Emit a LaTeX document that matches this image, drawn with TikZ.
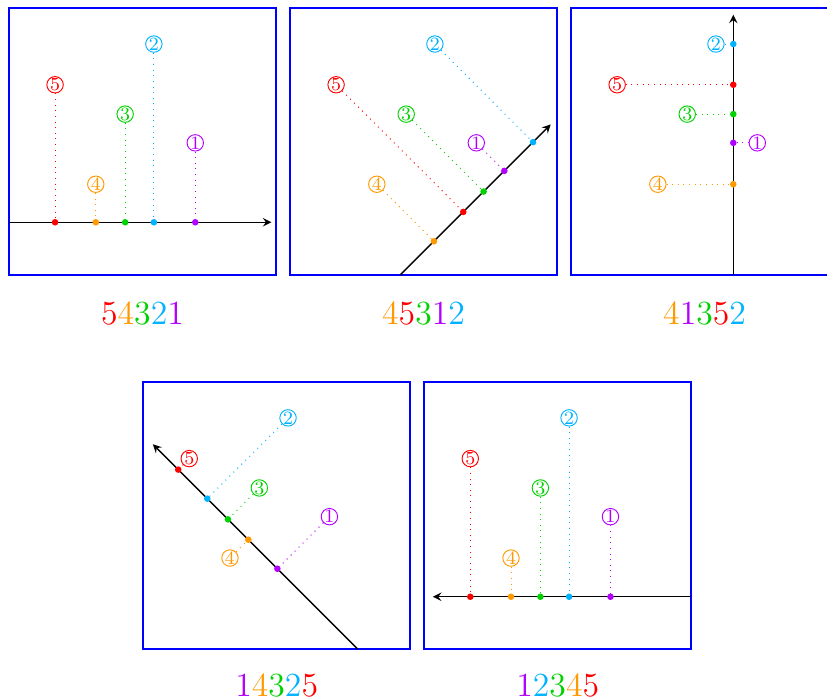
\documentclass[tikz,border=0pt]{standalone}
\usepackage{tikz}
\usetikzlibrary{calc,arrows}
\definecolor{cone}{RGB}{178,0,255}
\definecolor{ctwo}{RGB}{0,178,255}
\definecolor{cthree}{RGB}{0,210,0}
\definecolor{cfour}{RGB}{255,153,0}
\definecolor{cfive}{RGB}{255,0,0}
\begin{document}
\begin{tikzpicture}[>=stealth,
			box/.style={draw=blue, thick},
			axis/.style={->, semithick, black},
			num/.style={circle, draw, thin, inner sep=0pt, minimum size=7pt, font=\footnotesize},
			dot/.style={circle, fill, inner sep=0pt, minimum size=2.8pt},
			proj/.style={dotted, thin},
			order/.style={font=\Large, inner sep=0pt}]
			\useasboundingbox (-0.135,-6.352) rectangle (12.254,4.12);
			
			% panel a : 54321
			\begin{scope}
			\draw[box] (0,0) rectangle (4,4);
			\coordinate (aS) at (0,0.79);
			\coordinate (aE) at (3.93,0.79);
			\draw[axis] (aS) -- (aE);
			\node[num,cfive] (a5) at (0.69,2.85) {5};
			\node[num,cfour] (a4) at (1.30,1.36) {4};
			\node[num,cthree] (a3) at (1.74,2.41) {3};
			\node[num,ctwo] (a2) at (2.17,3.46) {2};
			\node[num,cone] (a1) at (2.79,1.98) {1};
			\node[dot,cfive] (a5p) at ($(aS)!(a5.center)!(aE)$) {};
			\node[dot,cfour] (a4p) at ($(aS)!(a4.center)!(aE)$) {};
			\node[dot,cthree] (a3p) at ($(aS)!(a3.center)!(aE)$) {};
			\node[dot,ctwo] (a2p) at ($(aS)!(a2.center)!(aE)$) {};
			\node[dot,cone] (a1p) at ($(aS)!(a1.center)!(aE)$) {};
			\path[proj] (a5) edge[draw=cfive] (a5p) (a4) edge[draw=cfour] (a4p) (a3) edge[draw=cthree] (a3p)
			(a2) edge[draw=ctwo] (a2p) (a1) edge[draw=cone] (a1p);
			\node[order] (aord) at (2,-0.57) {\textcolor{cfive}{5}\textcolor{cfour}{4}\textcolor{cthree}{3}\textcolor{ctwo}{2}\textcolor{cone}{1}};
			\end{scope}
			
			% panel b : 45312
			\begin{scope}[shift={(4.21,0)}]
			\draw[box] (0,0) rectangle (4,4);
			\coordinate (bS) at (1.65,0);
			\coordinate (bE) at (3.905,2.255);
			\draw[axis] (bS) -- (bE);
			\node[num,cfive] (b5) at (0.69,2.85) {5};
			\node[num,cfour] (b4) at (1.30,1.36) {4};
			\node[num,cthree] (b3) at (1.74,2.41) {3};
			\node[num,ctwo] (b2) at (2.17,3.46) {2};
			\node[num,cone] (b1) at (2.79,1.98) {1};
			\node[dot,cfive] (b5p) at ($(bS)!(b5.center)!(bE)$) {};
			\node[dot,cfour] (b4p) at ($(bS)!(b4.center)!(bE)$) {};
			\node[dot,cthree] (b3p) at ($(bS)!(b3.center)!(bE)$) {};
			\node[dot,ctwo] (b2p) at ($(bS)!(b2.center)!(bE)$) {};
			\node[dot,cone] (b1p) at ($(bS)!(b1.center)!(bE)$) {};
			\path[proj] (b5) edge[draw=cfive] (b5p) (b4) edge[draw=cfour] (b4p) (b3) edge[draw=cthree] (b3p)
			(b2) edge[draw=ctwo] (b2p) (b1) edge[draw=cone] (b1p);
			\node[order] (bord) at (2,-0.57) {\textcolor{cfour}{4}\textcolor{cfive}{5}\textcolor{cthree}{3}\textcolor{cone}{1}\textcolor{ctwo}{2}};
			\end{scope}
			
			% panel c : 41352
			\begin{scope}[shift={(8.42,0)}]
			\draw[box] (0,0) rectangle (4,4);
			\coordinate (cS) at (2.43,0);
			\coordinate (cE) at (2.43,3.90);
			\draw[axis] (cS) -- (cE);
			\node[num,cfive] (c5) at (0.69,2.85) {5};
			\node[num,cfour] (c4) at (1.30,1.36) {4};
			\node[num,cthree] (c3) at (1.74,2.41) {3};
			\node[num,ctwo] (c2) at (2.17,3.46) {2};
			\node[num,cone] (c1) at (2.79,1.98) {1};
			\node[dot,cfive] (c5p) at ($(cS)!(c5.center)!(cE)$) {};
			\node[dot,cfour] (c4p) at ($(cS)!(c4.center)!(cE)$) {};
			\node[dot,cthree] (c3p) at ($(cS)!(c3.center)!(cE)$) {};
			\node[dot,ctwo] (c2p) at ($(cS)!(c2.center)!(cE)$) {};
			\node[dot,cone] (c1p) at ($(cS)!(c1.center)!(cE)$) {};
			\path[proj] (c5) edge[draw=cfive] (c5p) (c4) edge[draw=cfour] (c4p) (c3) edge[draw=cthree] (c3p)
			(c2) edge[draw=ctwo] (c2p) (c1) edge[draw=cone] (c1p);
			\node[order] (cord) at (2,-0.57) {\textcolor{cfour}{4}\textcolor{cone}{1}\textcolor{cthree}{3}\textcolor{cfive}{5}\textcolor{ctwo}{2}};
			\end{scope}
			
			% panel d : 14325
			\begin{scope}[shift={(2.01,-5.60)}]
			\draw[box] (0,0) rectangle (4,4);
			\coordinate (dS) at (3.21,0);
			\coordinate (dE) at (0.145,3.065);
			\draw[axis] (dS) -- (dE);
			\node[num,cfive] (d5) at (0.69,2.85) {5};
			\node[num,cfour] (d4) at (1.30,1.36) {4};
			\node[num,cthree] (d3) at (1.74,2.41) {3};
			\node[num,ctwo] (d2) at (2.17,3.46) {2};
			\node[num,cone] (d1) at (2.79,1.98) {1};
			\node[dot,cfive] (d5p) at ($(dS)!(d5.center)!(dE)$) {};
			\node[dot,cfour] (d4p) at ($(dS)!(d4.center)!(dE)$) {};
			\node[dot,cthree] (d3p) at ($(dS)!(d3.center)!(dE)$) {};
			\node[dot,ctwo] (d2p) at ($(dS)!(d2.center)!(dE)$) {};
			\node[dot,cone] (d1p) at ($(dS)!(d1.center)!(dE)$) {};
			\path[proj] (d5) edge[draw=cfive] (d5p) (d4) edge[draw=cfour] (d4p) (d3) edge[draw=cthree] (d3p)
			(d2) edge[draw=ctwo] (d2p) (d1) edge[draw=cone] (d1p);
			\node[order] (dord) at (2,-0.55) {\textcolor{cone}{1}\textcolor{cfour}{4}\textcolor{cthree}{3}\textcolor{ctwo}{2}\textcolor{cfive}{5}};
			\end{scope}
			
			% panel e : 12345
			\begin{scope}[shift={(6.22,-5.60)}]
			\draw[box] (0,0) rectangle (4,4);
			\coordinate (eS) at (4,0.78);
			\coordinate (eE) at (0.13,0.78);
			\draw[axis] (eS) -- (eE);
			\node[num,cfive] (e5) at (0.69,2.85) {5};
			\node[num,cfour] (e4) at (1.30,1.36) {4};
			\node[num,cthree] (e3) at (1.74,2.41) {3};
			\node[num,ctwo] (e2) at (2.17,3.46) {2};
			\node[num,cone] (e1) at (2.79,1.98) {1};
			\node[dot,cfive] (e5p) at ($(eS)!(e5.center)!(eE)$) {};
			\node[dot,cfour] (e4p) at ($(eS)!(e4.center)!(eE)$) {};
			\node[dot,cthree] (e3p) at ($(eS)!(e3.center)!(eE)$) {};
			\node[dot,ctwo] (e2p) at ($(eS)!(e2.center)!(eE)$) {};
			\node[dot,cone] (e1p) at ($(eS)!(e1.center)!(eE)$) {};
			\path[proj] (e5) edge[draw=cfive] (e5p) (e4) edge[draw=cfour] (e4p) (e3) edge[draw=cthree] (e3p)
			(e2) edge[draw=ctwo] (e2p) (e1) edge[draw=cone] (e1p);
			\node[order] (eord) at (2,-0.55) {\textcolor{cone}{1}\textcolor{ctwo}{2}\textcolor{cthree}{3}\textcolor{cfour}{4}\textcolor{cfive}{5}};
			\end{scope}
			
		\end{tikzpicture}
\end{document}
